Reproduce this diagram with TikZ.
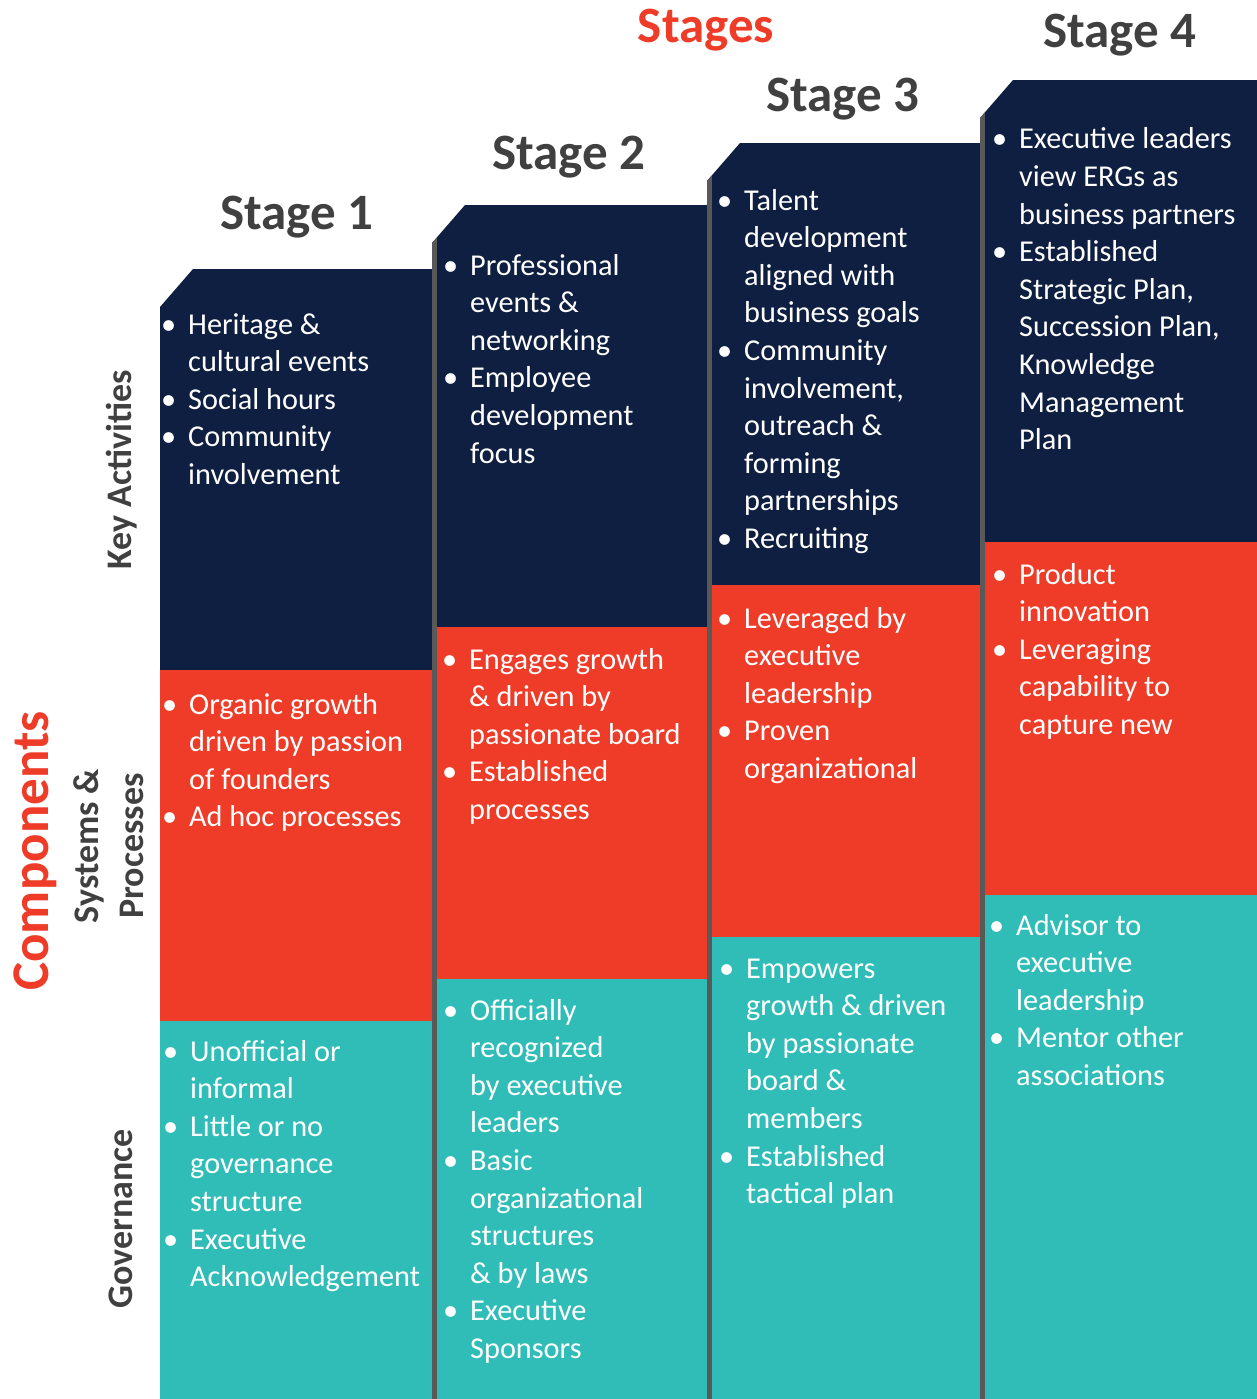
\documentclass[tikz,border=0pt]{standalone}
\usepackage{fontspec}
\setmainfont{Carlito}
\definecolor{navy}{HTML}{0F1F41}
\definecolor{cred}{HTML}{EE3C28}
\definecolor{cteal}{HTML}{31BDB7}
\definecolor{sidegray}{HTML}{595959}
\definecolor{titlegray}{HTML}{404040}
\newcommand\bu{\llap{\textbullet\hspace{12pt}}}
\newcommand\stcol[6]{%
  \begin{scope}
    \clip (#1,#3+38) -- (#1+33,#3) -- (#2,#3) -- (#2,1399) -- (#1,1399) -- cycle;
    \fill[navy] (#1,#3) rectangle (#2,#4);
    \fill[cred] (#1,#4) rectangle (#2,#5);
    \fill[cteal] (#1,#5) rectangle (#2,1399);
    \ifnum#6=1 \fill[sidegray] (#1,#3) rectangle (#1+5,1399);\fi
  \end{scope}}
\newcommand\txt[4]{\node[bodytext] (#1) at (#2,#3) {\begin{tabular}[t]{@{}l@{}}#4\end{tabular}};}
\begin{document}
\begin{tikzpicture}[x=1pt,y=-1pt,
  bodytext/.style={anchor=base west, inner sep=0pt, text=white, font=\fontsize{30.3}{37.6}\selectfont},
  stagetitle/.style={anchor=base, inner sep=0pt, text=titlegray, font=\fontsize{51}{60}\selectfont\bfseries},
  rowlabel/.style={anchor=base, inner sep=0pt, rotate=90, text=titlegray, font=\fontsize{36}{45}\selectfont\bfseries, align=center}]
\useasboundingbox (0,0) rectangle (1257,1399);
\fill[white] (0,0) rectangle (1257,1399);
% columns
\stcol{160}{432}{269}{670}{1021}{0}
\stcol{432}{707}{205}{627}{979}{1}
\stcol{707}{980}{143}{585}{937}{1}
\stcol{980}{1257}{80}{542}{895}{1}
% titles
\node[stagetitle, text=cred] (stages) at (706,43) {Stages};
\node[stagetitle] (s1) at (297,229) {Stage 1};
\node[stagetitle] (s2) at (569,170) {Stage 2};
\node[stagetitle] (s3) at (843,112) {Stage 3};
\node[stagetitle] (s4) at (1120,48) {Stage 4};
% row labels
\node[rowlabel, text=cred, font=\fontsize{53}{60}\selectfont\bfseries] (comp) at (48,851) {Components};
\node[rowlabel] (ka) at (131,470) {Key Activities};
\node[rowlabel] (sp1) at (98,846) {Systems \&};
\node[rowlabel] (sp2) at (143,846) {Processes};
\node[rowlabel] (gov) at (132,1219) {Governance};
% column 1
\txt{c1a}{188}{334}{\bu Heritage \&\\cultural events\\\bu Social hours\\\bu Community\\involvement}
\txt{c1b}{189}{714}{\bu Organic growth\\driven by passion\\of founders\\\bu Ad hoc processes}
\txt{c1c}{190}{1061}{\bu Unofficial or\\informal\\\bu Little or no\\governance\\structure\\\bu Executive\\Acknowledgement}
% column 2
\txt{c2a}{470}{275}{\bu Professional\\events \&\\networking\\\bu Employee\\development\\focus}
\txt{c2b}{469}{669}{\bu Engages growth\\\& driven by\\passionate board\\\bu Established\\processes}
\txt{c2c}{470}{1020}{\bu Officially\\recognized\\by executive\\leaders\\\bu Basic\\organizational\\structures\\\& by laws\\\bu Executive\\Sponsors}
% column 3
\txt{c3a}{744}{210}{\bu Talent\\development\\aligned with\\business goals\\\bu Community\\involvement,\\outreach \&\\forming\\partnerships\\\bu Recruiting}
\txt{c3b}{744}{628}{\bu Leveraged by\\executive\\leadership\\\bu Proven\\organizational}
\txt{c3c}{746}{978}{\bu Empowers\\growth \& driven\\by passionate\\board \&\\members\\\bu Established\\tactical plan}
% column 4
\txt{c4a}{1019}{149}{\bu Executive leaders\\view ERGs as\\business partners\\\bu Established\\Strategic Plan,\\Succession Plan,\\Knowledge\\Management\\Plan}
\txt{c4b}{1019}{584}{\bu Product\\innovation\\\bu Leveraging\\capability to\\capture new}
\txt{c4c}{1016}{935}{\bu Advisor to\\executive\\leadership\\\bu Mentor other\\associations}
\end{tikzpicture}
\end{document}
